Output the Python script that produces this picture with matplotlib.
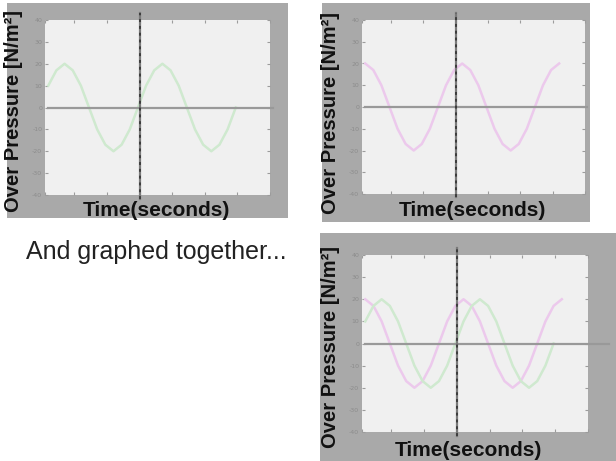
import matplotlib.pyplot as plt
from matplotlib.patches import Rectangle

# values
t = [-2.80, -2.55, -2.30, -2.05, -1.80, -1.55, -1.30, -1.05, -0.80, -0.55,
     -0.30, -0.05, 0.20, 0.45, 0.70, 0.95, 1.20, 1.45, 1.70, 1.95,
     2.20, 2.45, 2.70, 2.95, 3.20]
pink = [20, 17, 10, 0, -10, -17, -20, -17, -10, 0,
        10, 17, 20, 17, 10, 0, -10, -17, -20, -17,
        -10, 0, 10, 17, 20]
t_green = t[:24]
green = [10, 17, 20, 17, 10, 0, -10, -17, -20, -17,
         -10, 0, 10, 17, 20, 17, 10, 0, -10, -17,
         -20, -17, -10, 0]
yticks = [-40, -30, -20, -10, 0, 10, 20, 30, 40]
xticks = [-2.9, -2, -1, 0, 1, 2, 3, 4]

W, H = 616, 461
fig = plt.figure(figsize=(W / 100, H / 100), dpi=100)
fig.patch.set_facecolor('white')

GRAY = '#a9a9a9'
GREEN = '#cfe9cf'
PINK = '#ecc9ec'


def box(x0, y0, x1, y1):
    return [x0 / W, 1 - y1 / H, (x1 - x0) / W, (y1 - y0) / H]


def panel(frame, area, hline_end, label_x, xlabel_pos):
    fig.patches.append(Rectangle((frame[0] / W, 1 - frame[3] / H),
                                 (frame[2] - frame[0]) / W, (frame[3] - frame[1]) / H,
                                 transform=fig.transFigure, facecolor=GRAY,
                                 edgecolor='none', zorder=-10))
    ax = fig.add_axes(box(*area))
    ax.set_zorder(1)
    ax.set_facecolor('#f0f0f0')
    ax.set_xlim(-2.9, 4.0)
    ax.set_ylim(-40, 40)
    for s in ax.spines.values():
        s.set_visible(False)
    ax.set_yticks(yticks)
    ax.set_xticks(xticks)
    ax.set_yticklabels([str(v) for v in yticks])
    ax.tick_params(axis='both', direction='in', length=2.5, color='#9c9c9c',
                   top=True, right=True, labelsize=4.5, labelcolor='#8c8c8c', pad=2)
    ax.tick_params(axis='x', labelbottom=False)
    ax.axhline(0, xmin=0.015, xmax=hline_end, color='#999999', lw=1.6,
               clip_on=False, zorder=3)
    ax.axvline(0, ymin=-0.02, ymax=1.04, color='#7a7a7a', lw=1.6,
               clip_on=False, zorder=4)
    ax.axvline(0, ymin=-0.02, ymax=1.04, color='#3c3c3c', lw=1.4,
               ls=(0, (1.5, 2)), clip_on=False, zorder=4)
    fig.text(label_x / W, 1 - (frame[1] + frame[3]) / 2 / H, 'Over Pressure [N/m²]',
             rotation=90, ha='center', va='center', fontsize=14.5,
             fontweight='bold', family='Liberation Sans', color='#111111', zorder=5)
    fig.text(xlabel_pos[0] / W, 1 - xlabel_pos[1] / H, 'Time(seconds)',
             ha='center', va='center', fontsize=15, fontweight='bold',
             family='Liberation Sans', color='#111111', zorder=5)
    return ax


ax1 = panel((7, 3, 288, 218), (45, 20, 270, 195), 1.015, 14, (156, 210))
ax1.plot(t_green, green, color=GREEN, lw=1.8, zorder=2)

ax2 = panel((322, 3, 590, 222), (362, 20, 585, 194), 1.01, 331, (472, 211))
ax2.plot(t, pink, color=PINK, lw=1.8, zorder=2)

ax3 = panel((320, 233, 616, 461), (362, 255, 588, 432), 1.095, 330, (468, 450))
ax3.plot(t, pink, color=PINK, lw=1.8, zorder=2)
ax3.plot(t_green, green, color=GREEN, lw=1.8, zorder=2)

fig.text(156 / W, 1 - 252 / H, 'And graphed together...', ha='center', va='center',
         fontsize=18, family='Liberation Sans', color='#222222')

fig.savefig('out.png', dpi=100)
